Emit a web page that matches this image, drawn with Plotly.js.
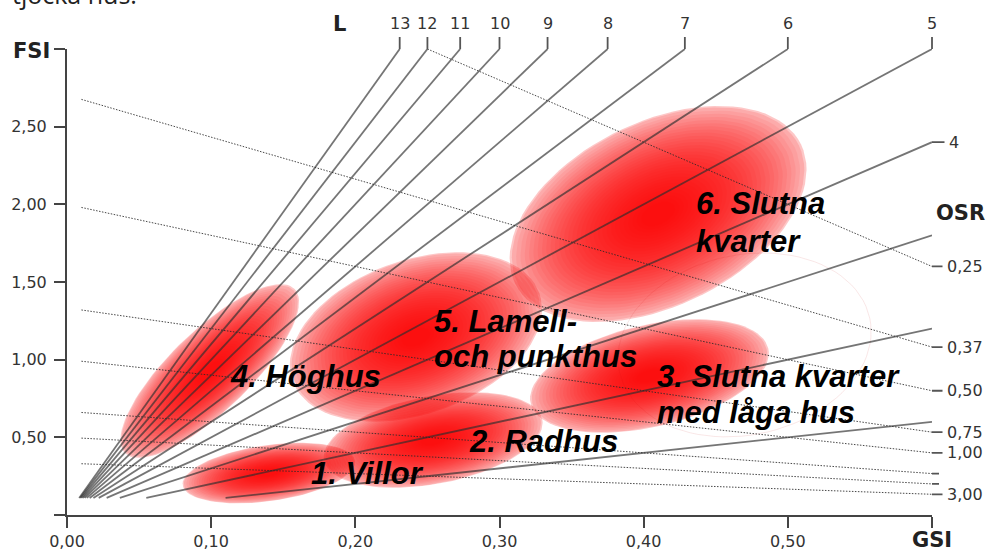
<!DOCTYPE html>
<html><head><meta charset="utf-8">
<script src="https://cdn.plot.ly/plotly-3.0.1.min.js"></script>
<style>html,body{margin:0;padding:0;background:#fff}#chart{width:987px;height:551px}</style>
</head><body><div id="chart"></div>
<script>
// ---------- data ----------
const floorValues = [1, 2, 3, 4, 5, 6, 7, 8, 9, 10, 11, 12, 13];          // L (floors)
const floorLabels = ['', '', '', '4', '5', '6', '7', '8', '9', '10', '11', '12', '13'];
const osrValues = [0.25, 0.37, 0.5, 0.75, 1, 1.5, 2, 3];                  // OSR lines
const osrLabels = ['0,25', '0,37', '0,50', '0,75', '1,00', '', '', '3,00'];
const xTickVals = [0, 0.1, 0.2, 0.3, 0.4, 0.5, 0.6];
const xTickText = ['0,00', '0,10', '0,20', '0,30', '0,40', '0,50', ''];
const yTickVals = [0, 0.5, 1, 1.5, 2, 2.5, 3];
const yTickText = ['', '0,50', '1,00', '1,50', '2,00', '2,50', ''];
const zoneNames = ['1. Villor', '2. Radhus', '3. Slutna kvarter med låga hus', '4. Höghus', '5. Lamell- och punkthus', '6. Slutna kvarter'];
const zoneLabelLines = [['1. Villor'], ['2. Radhus'], ['3. Slutna kvarter', 'med låga hus'], ['4. Höghus'], ['5. Lamell-', 'och punkthus'], ['6. Slutna', 'kvarter']];
const zoneGsi = [0.140, 0.254, 0.404, 0.099, 0.242, 0.410];               // zone centres
const zoneFsi = [0.270, 0.483, 0.895, 0.927, 1.146, 1.938];
const faintGsi = 0.470, faintFsi = 1.095;                                 // faint outline ellipse
const lineStartFsi = 0.11;

// ---------- layout / style config ----------
const W = 987, H = 551;
const M = {l: 67, r: 55, t: 49, b: 36};
const xRange = [0, 0.6], yRange = [0, 3];
const kx = (W - M.l - M.r) / (xRange[1] - xRange[0]);   // px per GSI unit
const ky = (H - M.t - M.b) / (yRange[1] - yRange[0]);   // px per FSI unit
const zoneShape = [
  {a: 87, b: 28, rot: 8}, {a: 111, b: 44, rot: 10.5}, {a: 122, b: 51, rot: 13},
  {a: 118, b: 40, rot: 44}, {a: 131, b: 77, rot: 19.5}, {a: 159, b: 92, rot: 26}
];
const faintShape = {a: 128, b: 90, rot: 12};
const labelPos = [
  {x: 0.1679, y: [0.2685]}, {x: 0.2774, y: [0.4745]}, {x: 0.408, y: [0.893, 0.661]},
  {x: 0.1117, y: [0.893]}, {x: 0.253, y: [1.247, 1.022]}, {x: 0.435, y: [2.007, 1.762]}
];
const layers = [{s: 1.0, alpha: 0.22}, {s: 0.985, alpha: 0.14}];
for (let i = 1; i <= 30; i++) layers.push({s: 0.985 - i * 0.029, alpha: 0.065});

function ellipse(cx, cy, a, b, rotDeg, n) {
  const th = rotDeg * Math.PI / 180, xs = [], ys = [];
  for (let i = 0; i <= n; i++) {
    const t = 2 * Math.PI * i / n;
    const dx = a * Math.cos(t) * Math.cos(th) - b * Math.sin(t) * Math.sin(th);
    const dy = a * Math.cos(t) * Math.sin(th) + b * Math.sin(t) * Math.cos(th);
    xs.push(cx + dx / kx); ys.push(cy + dy / ky);
  }
  return {xs, ys};
}

const traces = [];
// faint outline
{
  const e = ellipse(faintGsi, faintFsi, faintShape.a, faintShape.b, faintShape.rot, 90);
  traces.push({type: 'scatter', mode: 'lines', x: e.xs, y: e.ys, line: {color: 'rgba(220,120,120,0.18)', width: 1}, hoverinfo: 'skip'});
}
// zones
zoneNames.forEach((nm, z) => {
  layers.forEach(L => {
    const sh = zoneShape[z];
    const e = ellipse(zoneGsi[z], zoneFsi[z], sh.a * L.s, sh.b * L.s, sh.rot, 90);
    traces.push({type: 'scatter', mode: 'lines', x: e.xs, y: e.ys, fill: 'toself',
      fillcolor: 'rgba(248,0,0,' + L.alpha + ')', line: {width: 0}, name: nm, hoverinfo: 'skip'});
  });
});
// OSR dotted lines
osrValues.forEach(o => {
  const g0 = Math.max(0.01, 1 - yRange[1] * o);
  traces.push({type: 'scatter', mode: 'lines', x: [g0, xRange[1]], y: [(1 - g0) / o, (1 - xRange[1]) / o],
    line: {color: 'rgba(40,40,40,0.85)', width: 1, dash: '1.5px,1.5px'}, hoverinfo: 'skip'});
});
// L solid lines
floorValues.forEach(L => {
  const g0 = lineStartFsi / L;
  const g1 = Math.min(xRange[1], yRange[1] / L);
  traces.push({type: 'scatter', mode: 'lines', x: [g0, g1], y: [lineStartFsi, g1 * L],
    line: {color: 'rgba(45,45,45,0.66)', width: 1.8}, hoverinfo: 'skip'});
});

// ---------- annotations ----------
const tickFont = {family: 'DejaVu Sans, Verdana, sans-serif', size: 16, color: '#333'};
const boldFont = {family: 'DejaVu Sans, Verdana, sans-serif', size: 21, color: '#222', weight: 'bold'};
const zoneFont = {family: 'Liberation Sans, Arial, sans-serif', size: 31, color: '#000', weight: 'bold', style: 'italic'};
const ann = [];
const arrowBase = {showarrow: true, arrowhead: 0, arrowwidth: 1.8, arrowcolor: '#555', borderpad: 4, font: tickFont, xref: 'x', yref: 'y'};
floorValues.forEach((L, i) => {
  if (!floorLabels[i]) return;
  if (yRange[1] / L <= xRange[1]) {
    ann.push(Object.assign({}, arrowBase, {x: yRange[1] / L, y: yRange[1], ax: 0, ay: -26, text: floorLabels[i]}));
  } else {
    ann.push(Object.assign({}, arrowBase, {x: xRange[1], y: xRange[1] * L, ax: 22, ay: 0, text: floorLabels[i]}));
  }
});
osrValues.forEach((o, i) => {
  const lab = osrLabels[i];
  ann.push(Object.assign({}, arrowBase, {x: xRange[1], y: (1 - xRange[1]) / o, ax: lab ? 33 : 14, ay: 0, text: lab || ' '}));
});
zoneLabelLines.forEach((lines, z) => {
  lines.forEach((t, j) => {
    ann.push({xref: 'x', yref: 'y', x: labelPos[z].x, y: labelPos[z].y[j], text: t, showarrow: false,
      xanchor: 'left', yanchor: 'middle', font: zoneFont});
  });
});
ann.push({xref: 'x', yref: 'y', x: 0, y: yRange[1], xshift: -36, yshift: -2, text: 'FSI', showarrow: false, font: boldFont});
ann.push({xref: 'x', yref: 'y', x: xRange[1], y: 0, yshift: -25, text: 'GSI', showarrow: false, font: boldFont});
ann.push({xref: 'paper', yref: 'paper', x: 1.0324, y: 0.6474, xanchor: 'center', yanchor: 'middle', text: 'OSR', showarrow: false, font: boldFont});
ann.push({xref: 'paper', yref: 'paper', x: 0.315, y: 1.0536, xanchor: 'center', yanchor: 'middle', text: 'L', showarrow: false, font: boldFont});
ann.push({xref: 'paper', yref: 'paper', x: -0.066, y: 1.077, xanchor: 'left', yanchor: 'bottom', text: 'tjocka hus.', showarrow: false,
  font: {family: 'Open Sans, sans-serif', size: 25, color: '#222'}});

const axisBase = {ticks: 'outside', ticklen: 11, tickwidth: 2, tickcolor: '#444', showline: true, linewidth: 2, linecolor: '#444',
  showgrid: false, zeroline: false, tickfont: tickFont, tickmode: 'array', fixedrange: true};
const layout = {
  width: W, height: H, margin: Object.assign({pad: 0}, M), showlegend: false, hovermode: false,
  paper_bgcolor: '#fff', plot_bgcolor: '#fff',
  xaxis: Object.assign({}, axisBase, {range: xRange, tickvals: xTickVals, ticktext: xTickText}),
  yaxis: Object.assign({}, axisBase, {range: yRange, tickvals: yTickVals, ticktext: yTickText, ticklabelstandoff: 4}),
  annotations: ann
};
Plotly.newPlot('chart', traces, layout, {displayModeBar: false, staticPlot: true});
</script>
</body></html>
